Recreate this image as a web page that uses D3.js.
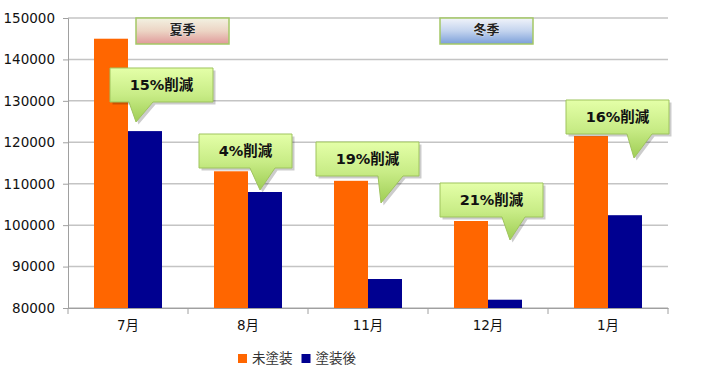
<!DOCTYPE html>
<html><head><meta charset="utf-8">
<script src="https://cdn.jsdelivr.net/npm/d3@7"></script>
<style>
body{margin:0;background:#fff;}
svg{display:block;}
text{font-family:"DejaVu Sans","Noto Sans CJK JP",sans-serif;}
</style></head>
<body><svg id="c" width="714" height="380"></svg>
<script>
// ---- data ----
const categories = ["7月","8月","11月","12月","1月"];
const seriesNames = ["未塗装","塗装後"];
const uncoated = [145000,113000,110700,101000,121500];
const coated   = [122700,108000,87000,82000,102400];
const reductionLabels = ["15%削減","4%削減","19%削減","21%削減","16%削減"];
const yTicks = [80000,90000,100000,110000,120000,130000,140000,150000];
const seasons = ["夏季","冬季"];

// ---- annotation layout (placement relative to scales) ----
const calloutLayout = [
  {left:-18,w:103,top:137932,tip:124897,tipDx:8, b0:1, b1:25},
  {left:-49,w:93, top:122000,tip:108484,tipDx:12,b0:2, b1:27},
  {left:-52,w:103,top:120070,tip:105347,tipDx:13,b0:10,b1:35},
  {left:-48,w:103,top:110174,tip:96416, tipDx:22,b0:14,b1:37},
  {left:-42,w:103,top:130208,tip:116208,tipDx:26,b0:19,b1:44}
];
const seasonLayout = [{cat:0,dx:8,w:93,grad:"gS"},{cat:3,dx:-48,w:93,grad:"gW"}];

const colors = ["#FF6600","#000090"];
const svg = d3.select("#c");
const m = {l:68,r:46,t:18,b:72};
const W = 714, H = 380;

const x = d3.scaleBand().domain(categories).range([m.l, W-m.r]);
const y = d3.scaleLinear().domain([80000,150000]).range([H-m.b, m.t]);
const inner = d3.scaleBand().domain(seriesNames).range([0,x.bandwidth()]).paddingInner(0).paddingOuter(0.765);

const defs = svg.append("defs");
function lin(id, stops){
  const g = defs.append("linearGradient").attr("id",id).attr("x1",0).attr("y1",0).attr("x2",0).attr("y2",1);
  stops.forEach(s=>g.append("stop").attr("offset",s[0]).attr("stop-color",s[1]));
}
lin("gC",[[0,"#e4ffa8"],[0.5,"#c8ec86"],[1,"#9fcd55"]]);
lin("gS",[[0,"#f3f2e2"],[0.5,"#ecd4c4"],[1,"#e09a9a"]]);
lin("gW",[[0,"#f1f4fa"],[0.5,"#c3d3ee"],[1,"#7b9fd9"]]);

// grid
svg.append("g").selectAll("line").data(yTicks).join("line")
  .attr("x1",m.l).attr("x2",W-m.r).attr("y1",d=>y(d)).attr("y2",d=>y(d))
  .attr("stroke","#c4c4c4").attr("stroke-width",1.5);

// y axis
const ya = svg.append("g").attr("transform",`translate(${m.l},0)`)
  .call(d3.axisLeft(y).tickValues(yTicks).tickSize(5).tickPadding(8).tickFormat(d3.format("d")));
ya.select(".domain").attr("stroke","#a0a0a0");
ya.selectAll(".tick line").attr("stroke","#a0a0a0");
ya.selectAll("text").attr("font-size","13.5px").attr("fill","#111");

// x axis
const xa = svg.append("g").attr("transform",`translate(0,${H-m.b})`)
  .call(d3.axisBottom(x).tickSize(0).tickPadding(12));
xa.select(".domain").attr("stroke","#a0a0a0");
xa.selectAll("text").attr("font-size","13.5px").attr("fill","#111");
// boundary ticks
const bounds = categories.map(c=>x(c)).concat([x(categories[categories.length-1])+x.bandwidth()]);
svg.append("g").selectAll("line").data(bounds).join("line")
  .attr("x1",d=>d).attr("x2",d=>d).attr("y1",H-m.b).attr("y2",H-m.b+6)
  .attr("stroke","#a0a0a0");

// bars
const series = [uncoated, coated];
series.forEach((vals,si)=>{
  svg.append("g").selectAll("rect").data(vals).join("rect")
    .attr("x",(d,i)=>x(categories[i])+inner(seriesNames[si]))
    .attr("width",inner.bandwidth())
    .attr("y",d=>y(d)).attr("height",d=>y(80000)-y(d))
    .attr("fill",colors[si]);
});

// season boxes
seasonLayout.forEach((s,i)=>{
  const bx = x(categories[s.cat]) + x.bandwidth()/2 + s.dx;
  const by = y(150000), bh = 26;
  svg.append("rect").attr("x",bx).attr("y",by).attr("width",s.w).attr("height",bh)
    .attr("fill",`url(#${s.grad})`).attr("stroke","#a4c866").attr("stroke-width",1.5);
  svg.append("text").attr("x",bx+s.w/2).attr("y",by+11).attr("dy","0.35em")
    .attr("text-anchor","middle").attr("font-size","13px").attr("font-weight","bold")
    .attr("fill","#222").attr("stroke","#fff").attr("stroke-width",0.6).attr("paint-order","stroke")
    .text(seasons[i]);
});

// callouts
calloutLayout.forEach((c,i)=>{
  const cx = x(categories[i]) + x.bandwidth()/2;
  const L = cx + c.left, R = L + c.w, T = y(c.top), B = T + 34;
  const tx = cx + c.tipDx, ty = y(c.tip);
  const p = `M${L},${T}H${R}V${B}H${cx+c.b1}L${tx},${ty}L${cx+c.b0},${B}H${L}Z`;
  svg.append("path").attr("d",p).attr("transform","translate(2.5,2.5)")
    .attr("fill","#000").attr("opacity",0.2);
  svg.append("path").attr("d",p).attr("fill","url(#gC)")
    .attr("stroke","#9fc45e").attr("stroke-width",1);
  svg.append("text").attr("x",(L+R)/2).attr("y",(T+B)/2).attr("dy","0.35em")
    .attr("text-anchor","middle").attr("font-size","14.5px").attr("font-weight","bold")
    .attr("fill","#111").text(reductionLabels[i]);
});

// legend
const lg = svg.append("g").attr("transform","translate(238,354)");
let lx = 0;
seriesNames.forEach((n,i)=>{
  lg.append("rect").attr("x",lx).attr("y",0).attr("width",9).attr("height",9).attr("fill",colors[i]);
  const t = lg.append("text").attr("x",lx+14).attr("y",4.5).attr("dy","0.35em")
    .attr("font-size","13.5px").attr("fill","#333").text(n);
  lx += 14 + t.node().getComputedTextLength() + 9;
});
</script></body></html>
